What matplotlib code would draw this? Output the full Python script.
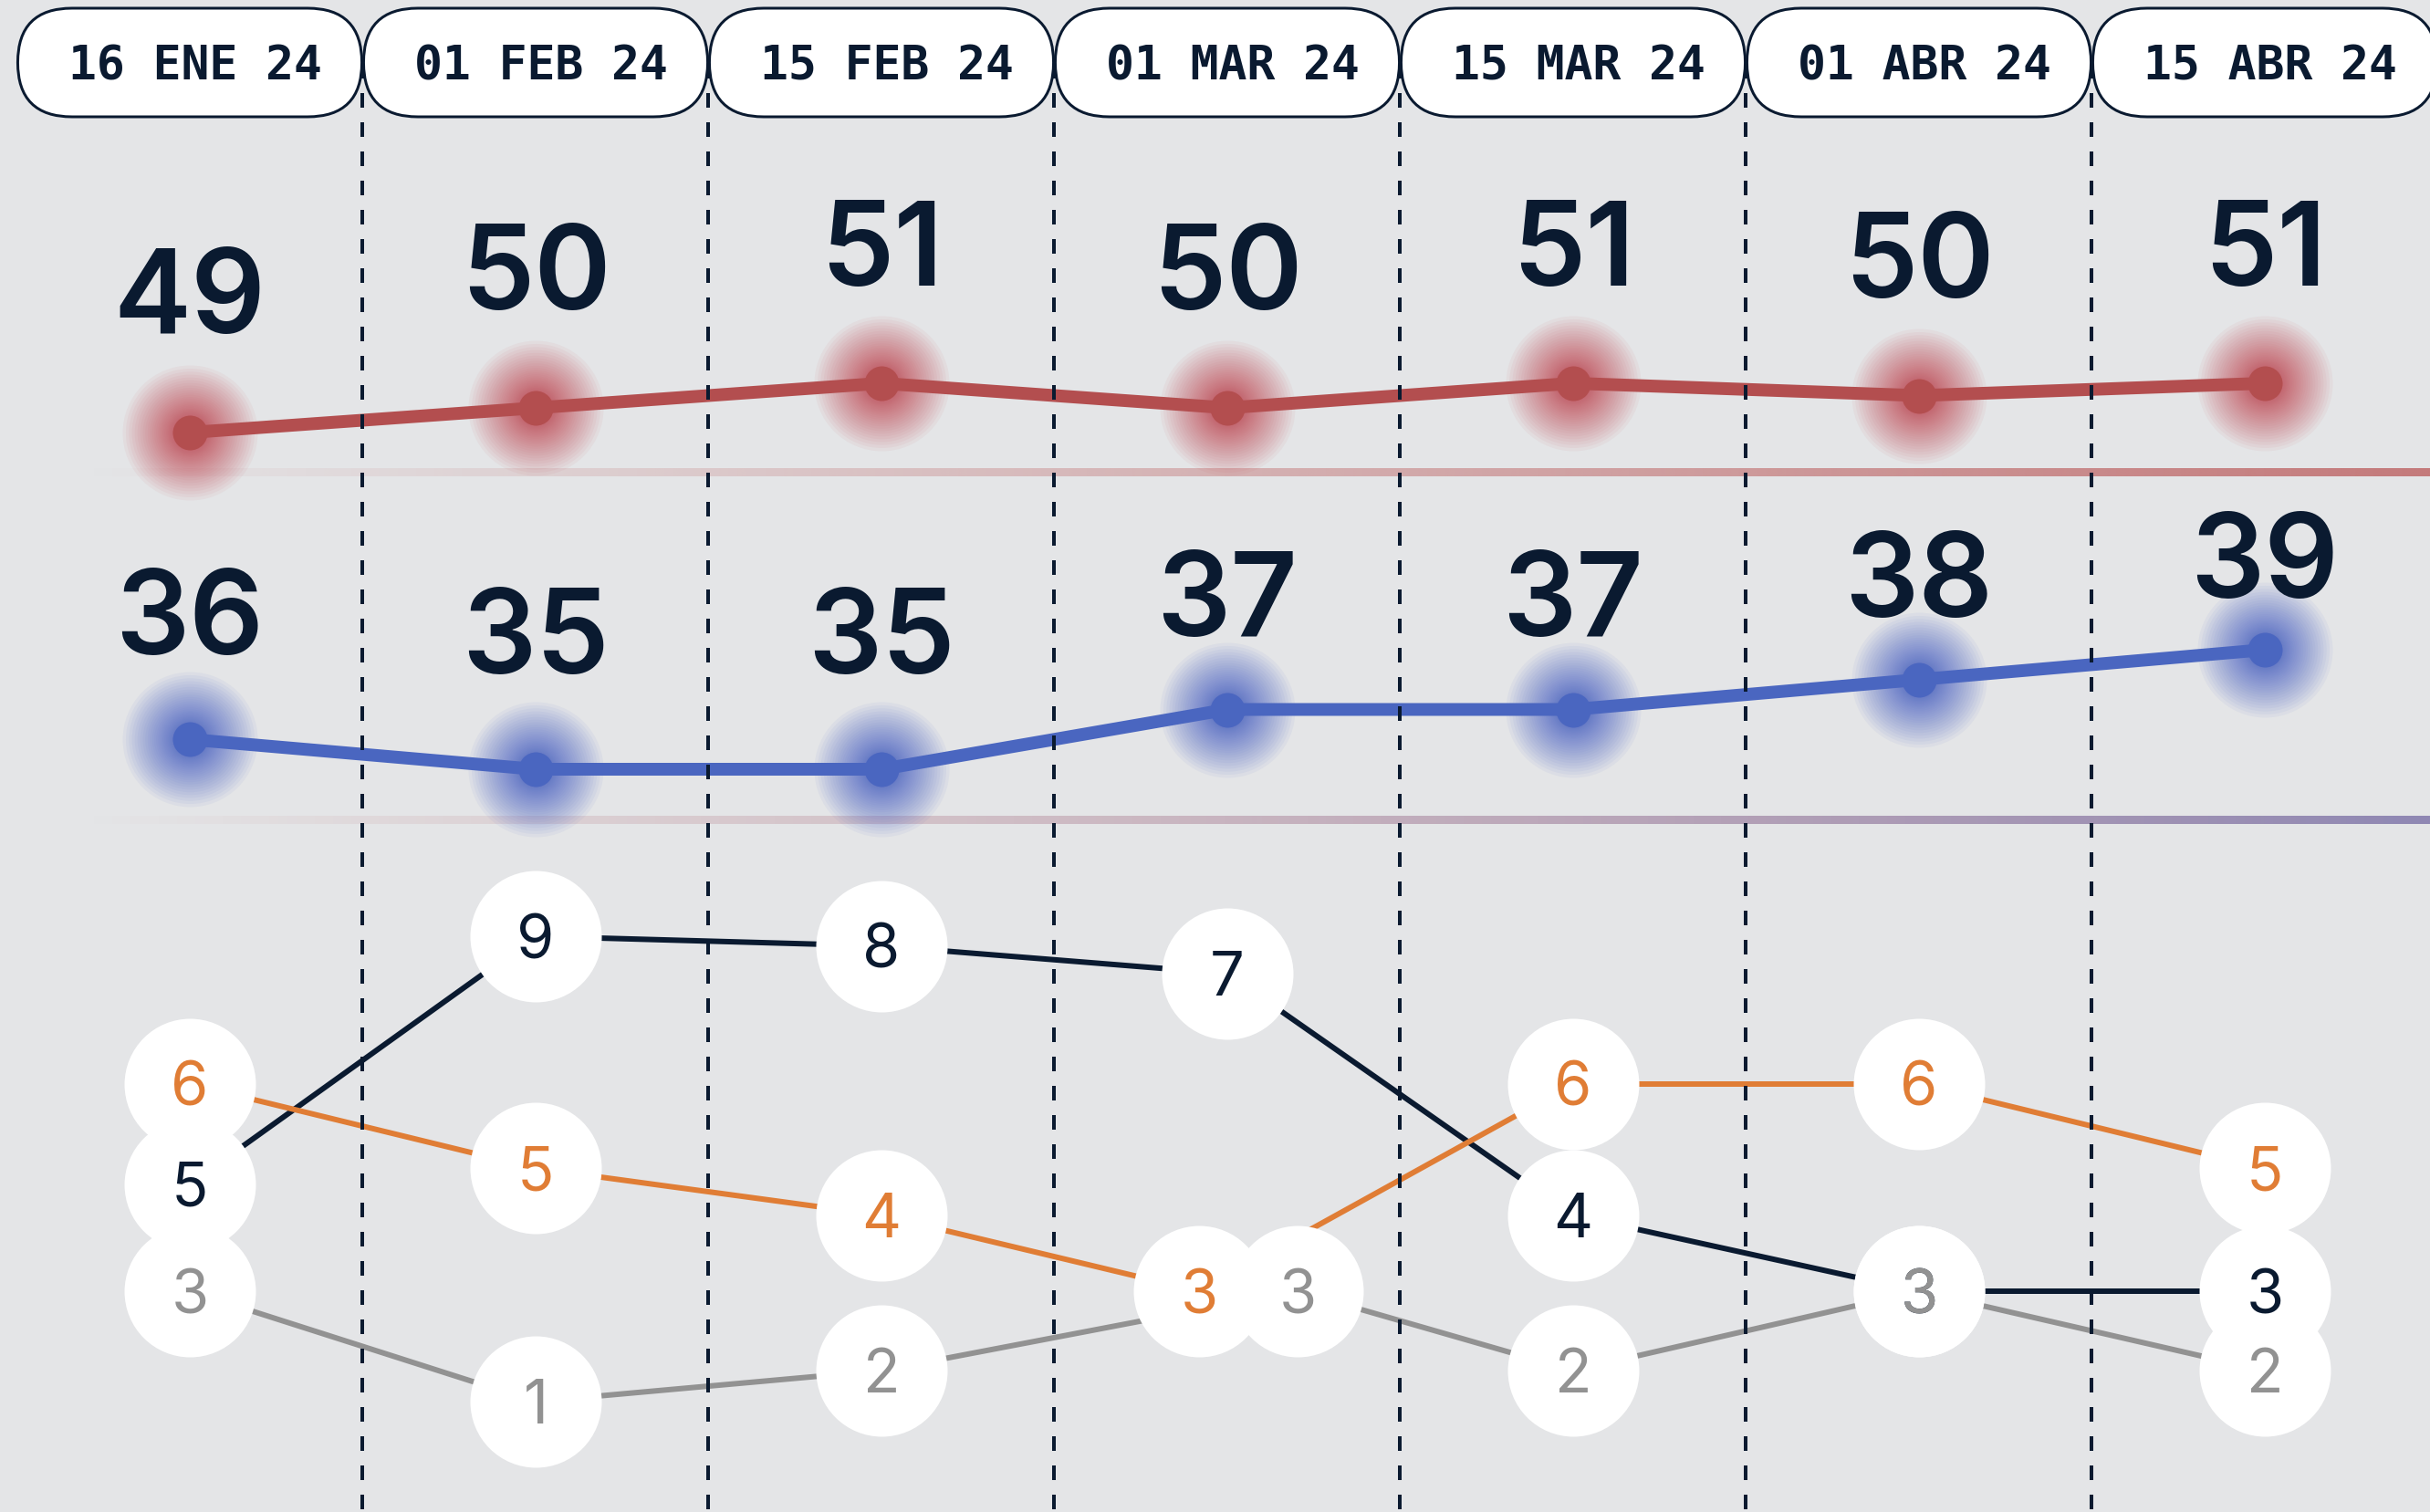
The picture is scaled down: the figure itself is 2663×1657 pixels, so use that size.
import numpy as np
import matplotlib.pyplot as plt
from matplotlib.patches import FancyBboxPatch
from matplotlib.colors import to_rgb

# ── datos ─────────────────────────────────────
dates = ["16 ENE 24", "01 FEB 24", "15 FEB 24", "01 MAR 24",
         "15 MAR 24", "01 ABR 24", "15 ABR 24"]

red_vals = [49, 50, 51, 50, 51, 50.5, 51]
blue_vals = [36, 35, 35, 37, 37, 38, 39]

# rangos (etiqueta) y su posición vertical (score)
navy_rank = [5, 9, 8, 7, 4, 3, 3]
navy_score = [4.55, 8.14, 8.0, 7.6, 4.1, 3.0, 3.0]
orange_rank = [6, 5, 4, 3, 6, 6, 5]
orange_score = [6.0, 4.78, 4.1, 3.0, 6.0, 6.0, 4.78]
gray_rank = [3, 1, 2, 3, 2, 3, 2]
gray_score = [3.0, 1.4, 1.85, 3.0, 1.85, 3.0, 1.85]

# ── estilo ────────────────────────────────────
W, H, DPI = 2663, 1657, 100
PT = 72 / DPI                      # px -> pt
COL0, COLW = 208, 379              # centro de la 1a columna y paso, en px
XLIM = (-COL0 / COLW, (W - COL0) / COLW)

BG = "#e4e5e7"
NAVY = "#0a1a30"
RED = "#b34e4f"
BLUE = "#4a66c0"
ORANGE = "#e07d35"
GRAY = "#929292"

x = np.arange(len(dates))

fig = plt.figure(figsize=(W / DPI, H / DPI), dpi=DPI, facecolor=BG)


def band(v0, p0, v1, p1, z=1):
    # ejes a toda la figura: valor v0 en el px p0 (desde arriba), v1 en p1
    k = (p0 - p1) / (v1 - v0)
    ax = fig.add_axes([0, 0, 1, 1], zorder=z)
    ax.set_xlim(*XLIM)
    ax.set_ylim(v0 - (H - p0) / k, v0 + p0 / k)
    ax.axis("off")
    return ax


def glow(ax, xs, ys, color, r_out=74, r_in=16, n=34, a=0.06):
    # halo: capas concentradas cerca del centro -> caída suave
    for t in np.linspace(1, 0, n):
        r = r_in + (r_out - r_in) * t ** 2
        ax.scatter(xs, ys, s=(2 * r * PT) ** 2, color=color, alpha=a,
                   lw=0, zorder=1)


def num(ax, xv, yv, s, size, color, **kw):
    ax.annotate(s, (xv, yv), xytext=(0, -0.36 * size),
                textcoords="offset points", ha="center", va="baseline",
                fontsize=size, color=color, **kw)


# ── fondo: separadores con degradado ──────────
ax_bg = band(0, 0, H, H, z=0)


def sep(y, c_left, c_right):
    n = 600
    t = np.linspace(0, 1, n)
    cl, cr = np.array(to_rgb(c_left)), np.array(to_rgb(c_right))
    img = np.zeros((1, n, 4))
    img[0, :, :3] = cl[None, :] * (1 - t[:, None]) + cr[None, :] * t[:, None]
    img[0, :, 3] = t
    ax_bg.imshow(img, extent=(-0.31, XLIM[1], y + 4.3, y - 4.3),
                 aspect="auto", interpolation="bilinear", zorder=1)


sep(517.5, "#c47a7b", "#c47a7b")
sep(898.5, "#c47a7b", "#8f88b4")
ax_bg.set_xlim(*XLIM)
ax_bg.set_ylim(H, 0)

# ── línea roja ────────────────────────────────
ax_red = band(49, 474, 51, 420, z=2)
glow(ax_red, x, red_vals, "#c44f5a")
ax_red.plot(x, red_vals, color=RED, lw=14 * PT, zorder=2)
ax_red.scatter(x, red_vals, s=(38 * PT) ** 2, color=RED, lw=0, zorder=3)

ax_redlab = band(49, 319, 51, 267, z=2)
for xi, v in zip(x, red_vals):
    num(ax_redlab, xi, v, f"{int(v)}", 92, NAVY,
        family=["Inter", "DejaVu Sans"], weight="semibold")

# ── línea azul ────────────────────────────────
ax_blue = band(35, 843, 39, 712, z=2)
glow(ax_blue, x, blue_vals, "#4f68c6")
ax_blue.plot(x, blue_vals, color=BLUE, lw=14 * PT, zorder=2)
ax_blue.scatter(x, blue_vals, s=(38 * PT) ** 2, color=BLUE, lw=0, zorder=3)

ax_bluelab = band(35, 692, 39, 609, z=2)
for xi, v in zip(x, blue_vals):
    num(ax_bluelab, xi, v, f"{int(v)}", 92, NAVY,
        family=["Inter", "DejaVu Sans"], weight="semibold")

# ── rankings ──────────────────────────────────
ax_rk = band(3, 1415, 6, 1188, z=3)
series = [(navy_rank, navy_score, NAVY),
          (orange_rank, orange_score, ORANGE),
          (gray_rank, gray_score, GRAY)]
# desplazamiento horizontal donde dos círculos chocan (col 4)
nudge = {(1, 3): -0.082, (2, 3): 0.203}

pos = []
for k, (rk, sc, c) in enumerate(series):
    xs = np.array([xi + nudge.get((k, i), 0) for i, xi in enumerate(x)])
    pos.append(xs)
    ax_rk.plot(xs, sc, color=c, lw=6 * PT, zorder=1)
for k, (rk, sc, c) in enumerate(series):
    ax_rk.scatter(pos[k], sc, s=(144 * PT) ** 2, color="white", lw=0, zorder=2)
for k, (rk, sc, c) in enumerate(series):
    for xi, yi, r in zip(pos[k], sc, rk):
        num(ax_rk, xi, yi, str(r), 48, c, family=["Inter", "DejaVu Sans"],
            zorder=3 + k)

# ── líneas verticales punteadas ───────────────
ax_dash = band(0, 0, H, H, z=5)
ax_dash.vlines(x[:-1] + 0.5, 70, H, color=NAVY, lw=4 * PT,
               linestyles=(0, (4, 4)))

# ── cabecera con fechas ───────────────────────
hh = 140
ax_head = fig.add_axes([0, 1 - hh / H, 1, hh / H], zorder=10)
ax_head.set_xlim(*XLIM)
ax_head.set_ylim(0, hh / COLW)
ax_head.axis("off")
y0, ph = (hh - 128) / COLW, 119 / COLW
for xi, d in zip(x, dates):
    ax_head.add_patch(FancyBboxPatch(
        (xi - 0.4975, y0), 0.995, ph,
        boxstyle=f"round,pad=0,rounding_size={ph / 2}",
        facecolor="white", edgecolor=NAVY, lw=3 * PT))
    ax_head.text(xi + 0.015, y0 + ph / 2, d, ha="center", va="center_baseline",
                 fontsize=37, color=NAVY, family="DejaVu Sans Mono",
                 weight="bold")

plt.savefig("out.png", dpi=DPI, facecolor=BG)
